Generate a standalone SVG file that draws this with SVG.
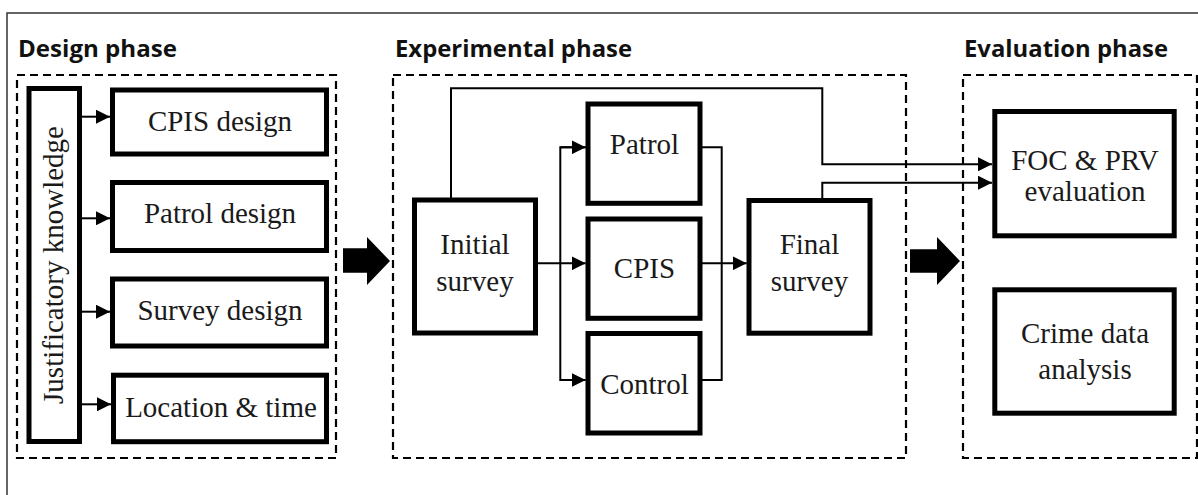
<svg xmlns="http://www.w3.org/2000/svg" width="1198" height="495" viewBox="0 0 1198 495">
<defs>
<marker id="ah" viewBox="0 0 14 14" refX="14" refY="7" markerWidth="14" markerHeight="14" markerUnits="userSpaceOnUse" orient="auto">
<path d="M0,0 L14,7 L0,14 Z" fill="#000"/>
</marker>
<style>
.box{fill:#fff;stroke:#000;stroke-width:5}
.dash{fill:none;stroke:#000;stroke-width:2.2;stroke-dasharray:8 5}
.t{font-family:'Liberation Serif','DejaVu Serif',serif;font-size:29px;fill:#1a1a1a;text-anchor:middle}
.h{font-family:'Open Sans','Liberation Sans',sans-serif;font-size:23px;font-weight:bold;fill:#111}
.c{fill:none;stroke:#000;stroke-width:2}
.blk{fill:#000}
</style>
</defs>
<rect width="1198" height="495" fill="#fff"/>
<path d="M7,495 V13 H1198" fill="none" stroke="#333" stroke-width="1.5"/>
<g id="headers">
<text class="h" x="18" y="57" textLength="159" lengthAdjust="spacingAndGlyphs">Design phase</text>
<text class="h" x="395" y="57" textLength="237" lengthAdjust="spacingAndGlyphs">Experimental phase</text>
<text class="h" x="964" y="57" textLength="204" lengthAdjust="spacingAndGlyphs">Evaluation phase</text>
</g>
<g id="phases">
<rect class="dash" x="17" y="75" width="319" height="383"/>
<rect class="dash" x="393" y="75" width="513" height="383"/>
<rect class="dash" x="963" y="75" width="234" height="383"/>
</g>
<g id="connectors">
<line class="c" x1="81" y1="116.7" x2="110" y2="116.7" marker-end="url(#ah)"/>
<line class="c" x1="81" y1="218.3" x2="110" y2="218.3" marker-end="url(#ah)"/>
<line class="c" x1="81" y1="311.7" x2="110" y2="311.7" marker-end="url(#ah)"/>
<line class="c" x1="81" y1="404.3" x2="111" y2="404.3" marker-end="url(#ah)"/>
<path class="c" d="M451,200 V88.3 H822.3 V164.3 H992" marker-end="url(#ah)"/>
<path class="c" d="M822.3,198 V182.7 H992" marker-end="url(#ah)"/>
<line class="c" x1="537" y1="263.3" x2="585.7" y2="263.3" marker-end="url(#ah)"/>
<path class="c" d="M585.7,147.3 H560.3 V380 H585.7" marker-end="url(#ah)"/>
<line class="c" x1="560.3" y1="147.3" x2="585.7" y2="147.3" marker-end="url(#ah)"/>
<path class="c" d="M702,147.3 H721.7 V380 H702"/>
<line class="c" x1="702" y1="263.3" x2="746.7" y2="263.3" marker-end="url(#ah)"/>
<path class="blk" d="M343,248.3 H367 V237 L390,261 L367,285 V272.7 H343 Z"/>
<path class="blk" d="M910,249.3 H937 V237 L960,261 L937,285 V272.7 H910 Z"/>
</g>
<g id="justificatory">
<rect class="box" x="29" y="88.5" width="50.5" height="353" stroke-width="4.5"/>
<text class="t" transform="translate(63,265) rotate(-90)" x="0" y="0">Justificatory knowledge</text>
</g>
<g id="cpis-design">
<rect class="box" x="112.5" y="90" width="214" height="64"/>
<text class="t" x="220" y="131">CPIS design</text>
</g>
<g id="patrol-design">
<rect class="box" x="112.5" y="182.5" width="214" height="68"/>
<text class="t" x="220" y="223">Patrol design</text>
</g>
<g id="survey-design">
<rect class="box" x="112.5" y="279" width="214" height="67"/>
<text class="t" x="220" y="319.5">Survey design</text>
</g>
<g id="location-time">
<rect class="box" x="113.5" y="375.2" width="213" height="66.5"/>
<text class="t" x="221" y="416.7">Location &amp; time</text>
</g>
<g id="initial-survey">
<rect class="box" x="414.5" y="200" width="121" height="133"/>
<text class="t" x="475" y="254">Initial</text>
<text class="t" x="475" y="291">survey</text>
</g>
<g id="patrol">
<rect class="box" x="588" y="104" width="112" height="99.3"/>
<text class="t" x="644.5" y="154.3">Patrol</text>
</g>
<g id="cpis">
<rect class="box" x="588" y="219" width="112" height="99.3"/>
<text class="t" x="644.5" y="278.3">CPIS</text>
</g>
<g id="control">
<rect class="box" x="588" y="333.5" width="112" height="99.5"/>
<text class="t" x="644.5" y="394">Control</text>
</g>
<g id="final-survey">
<rect class="box" x="749" y="200.5" width="121" height="132.7"/>
<text class="t" x="809.5" y="254">Final</text>
<text class="t" x="809.5" y="291">survey</text>
</g>
<g id="foc-prv">
<rect class="box" x="994.8" y="111.5" width="179.4" height="124.3"/>
<text class="t" x="1085" y="170">FOC &amp; PRV</text>
<text class="t" x="1085" y="201">evaluation</text>
</g>
<g id="crime-data">
<rect class="box" x="994.8" y="289.8" width="179.4" height="123.4"/>
<text class="t" x="1085" y="343">Crime data</text>
<text class="t" x="1085" y="379.3">analysis</text>
</g>
</svg>
